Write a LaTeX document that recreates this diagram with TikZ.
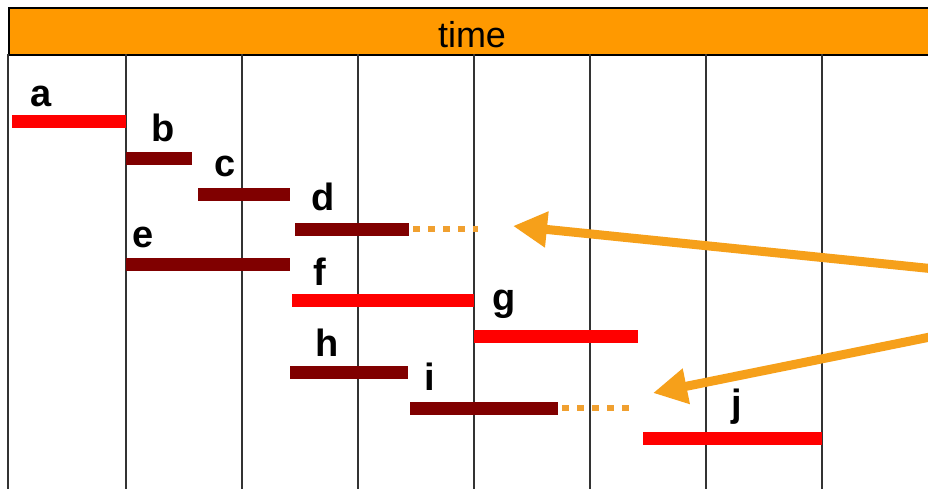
\documentclass[tikz,border=0pt]{standalone}
\usepackage{fontspec}
\setmainfont{Liberation Sans}
\usetikzlibrary{arrows.meta}
\definecolor{hdr}{HTML}{FF9900}
\definecolor{arr}{HTML}{F6A01A}
\definecolor{dotc}{HTML}{F0A030}
\definecolor{redbar}{HTML}{FF0000}
\definecolor{darkbar}{HTML}{800000}
\definecolor{gridc}{HTML}{333333}
\tikzset{
  redb/.style={draw=redbar, line width=13pt},
  darkb/.style={draw=darkbar, line width=13pt},
  dotl/.style={draw=dotc, line width=6pt, dash pattern=on 7pt off 8pt},
  gridl/.style={draw=gridc, line width=1.4pt},
  lbl/.style={inner sep=0pt, anchor=base, font=\fontsize{38}{40}\selectfont\bfseries},
  bigarrow/.style={draw=arr, line width=9pt, -{Triangle[length=34pt,width=34pt]}}
}
\begin{document}
\begin{tikzpicture}[x=1pt,y=-1pt]
\useasboundingbox (0,0) rectangle (928,488);
\begin{scope}
\clip (0,0) rectangle (928,488);
\fill[white] (0,0) rectangle (928,488);
% header
\node[draw=black, line width=1.5pt, fill=hdr, minimum width=940pt, minimum height=47pt, anchor=north west, inner sep=0pt] (hdr) at (8,7) {};
\node[font=\fontsize{36}{38}\selectfont, anchor=base] (time) at (472,47) {time};
% grid
\draw[gridl] (8,54) -- (8,490);
\foreach \x in {126,242,358,474,590,706,822} {
  \draw[gridl] (\x,54) -- (\x,490);
}
% bars
\coordinate (a1) at (12,121);  \coordinate (a2) at (126,121);
\coordinate (b1) at (126,158); \coordinate (b2) at (192,158);
\coordinate (c1) at (198,194); \coordinate (c2) at (290,194);
\coordinate (d1) at (295,229); \coordinate (d2) at (409,229); \coordinate (d3) at (478,229);
\coordinate (e1) at (126,264); \coordinate (e2) at (290,264);
\coordinate (f1) at (292,300); \coordinate (f2) at (474,300);
\coordinate (g1) at (474,336); \coordinate (g2) at (638,336);
\coordinate (h1) at (290,372); \coordinate (h2) at (408,372);
\coordinate (i1) at (410,408); \coordinate (i2) at (558,408); \coordinate (i3) at (634,408);
\coordinate (j1) at (643,438); \coordinate (j2) at (822,438);
\draw[redb] (a1) -- (a2);
\draw[darkb] (b1) -- (b2);
\draw[darkb] (c1) -- (c2);
\draw[darkb] (d1) -- (d2);
\draw[dotl] ([xshift=4pt]d2) -- (d3);
\draw[darkb] (e1) -- (e2);
\draw[redb] (f1) -- (f2);
\draw[redb] (g1) -- (g2);
\draw[darkb] (h1) -- (h2);
\draw[darkb] (i1) -- (i2);
\draw[dotl] ([xshift=4pt]i2) -- (i3);
\draw[redb] (j1) -- (j2);
% labels
\node[lbl] (la) at (41,106) {a};
\node[lbl] (lb) at (163,141) {b};
\node[lbl] (lc) at (225,176) {c};
\node[lbl] (ld) at (323,210) {d};
\node[lbl] (le) at (143,247) {e};
\node[lbl] (lf) at (320,285) {f};
\node[lbl] (lg) at (504,310) {g};
\node[lbl] (lh) at (327,356) {h};
\node[lbl] (li) at (430,390) {i};
\node[lbl] (lj) at (737,416) {j};
% arrows
\coordinate (s1) at (935,269);
\coordinate (t1) at (513,226);
\coordinate (s2) at (935,336);
\coordinate (t2) at (653,393);
\draw[bigarrow] (s1) -- (t1);
\draw[bigarrow] (s2) -- (t2);
\end{scope}
\end{tikzpicture}
\end{document}
